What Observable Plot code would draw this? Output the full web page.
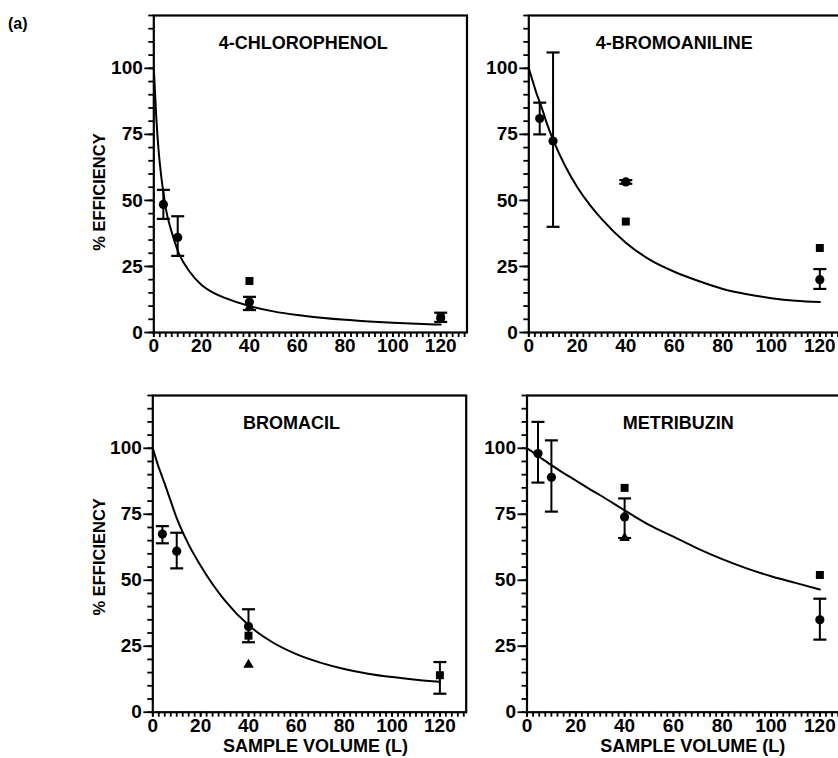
<!DOCTYPE html>
<html>
<head>
<meta charset="utf-8">
<script src="https://cdn.jsdelivr.net/npm/d3@7"></script>
<script src="https://cdn.jsdelivr.net/npm/@observablehq/plot@0.6"></script>
<style>
  html, body { margin: 0; padding: 0; background: #fff; overflow: hidden; }
  #chart { position: relative; width: 838px; height: 758px; overflow: hidden; background: #fff; }
  #chart > svg { position: absolute; overflow: visible; }
  #tag { position: absolute; left: 8px; top: 16px; font: bold 16px 'Liberation Sans', Arial, sans-serif; line-height: 16px; color: #000; }
</style>
</head>
<body>
<div id="chart"><div id="tag">(a)</div></div>
<script>
// ---------- data ----------
const panelTitles = ["4-CHLOROPHENOL", "4-BROMOANILINE", "BROMACIL", "METRIBUZIN"];
const yAxisLabel = "% EFFICIENCY";
const xAxisLabel = "SAMPLE VOLUME (L)";
const xTicks = [0, 20, 40, 60, 80, 100, 120];
const yTicks = [0, 25, 50, 75, 100];

// fitted curves, sampled at these volumes (L)
const curveVolume = [0, 1, 2, 3, 4, 5, 7.5, 10, 15, 20, 25, 30, 40, 50, 60, 70, 80, 90, 100, 110, 120];
const chlorophenolCurve = [100, 82, 69, 60, 53, 47, 38, 31, 23, 18, 15, 13, 10, 8, 6.6, 5.6, 4.8, 4.2, 3.7, 3.3, 3.0];
const bromoanilineCurve = [100, 97, 94, 91, 88.5, 86, 79, 73, 63, 55, 48.5, 43, 34, 27.5, 23, 19.5, 16.5, 14.5, 13, 12, 11.5];
const bromacilCurve = [100, 97, 94, 91.5, 89, 86.5, 80, 73.5, 63.5, 55.5, 48.5, 42.5, 33, 26.5, 22, 18.8, 16.4, 14.6, 13.3, 12.3, 11.5];
const metribuzinCurve = [100, 99.4, 98.8, 98.1, 97.5, 96.8, 95.2, 93.6, 90.6, 87.8, 84.9, 82.2, 76.5, 71, 66.5, 62, 58, 54.5, 51.5, 49, 46.5];

// [volume, efficiency]
const chlorophenolCircles = [[4, 48.5], [10, 36], [40, 11.5], [120, 5.5]];
const chlorophenolSquares = [[40, 19.5], [120, 6]];
const chlorophenolTriangles = [[40, 9.5]];
// [volume, low, high]
const chlorophenolErrors = [[4, 43, 54], [10, 29, 44], [40, 8.5, 13.5], [120, 4, 7.5]];

const bromoanilineCircles = [[4.5, 81], [10, 72.5], [40, 57], [120, 20]];
const bromoanilineSquares = [[40, 42], [120, 32]];
const bromoanilineTriangles = [];
const bromoanilineErrors = [[4.5, 75, 87], [10, 40, 106], [40, 56.3, 57.7], [120, 16.5, 24]];

const bromacilCircles = [[4, 67.5], [10, 61], [40, 32.5]];
const bromacilSquares = [[40, 29], [120, 14]];
const bromacilTriangles = [[40, 18]];
const bromacilErrors = [[4, 64, 70.5], [10, 54.5, 68], [40, 26.5, 39], [120, 7, 19]];

const metribuzinCircles = [[4.5, 98], [10, 89], [40, 74], [120, 35]];
const metribuzinSquares = [[40, 85], [120, 52]];
const metribuzinTriangles = [[40, 66]];
const metribuzinErrors = [[4.5, 87, 110], [10, 76, 103], [40, 66, 81], [120, 27.5, 43]];

// ---------- drawing ----------
const FONT = "'Liberation Sans', Arial, sans-serif";
const capSymbol = { draw(ctx) { ctx.moveTo(-6.5, 0); ctx.lineTo(6.5, 0); } };
const xMinor = d3.range(0, 131, 2.5);
const yMinor = d3.range(0, 121, 5);

function panel(cfg) {
  const curve = cfg.curve.map((y, i) => ({ x: curveVolume[i], y }));
  const pts = a => a.map(([x, y]) => ({ x, y }));
  const errs = cfg.errors.map(([x, lo, hi]) => ({ x, lo, hi }));
  const caps = errs.flatMap(d => [{ x: d.x, y: d.lo }, { x: d.x, y: d.hi }]);
  const marks = [
    Plot.axisY({ ticks: yMinor, tickSize: 5, fill: "none", strokeWidth: 1.8, label: null }),
    Plot.axisY({ ticks: yTicks, tickSize: 9, tickPadding: 2, strokeWidth: 1.8, label: null, tickFormat: d => String(d) }),
    Plot.axisX({ ticks: xMinor, tickSize: 5, fill: "none", strokeWidth: 1.8, label: null }),
    Plot.axisX({ ticks: xTicks, tickSize: 5, tickPadding: 1, strokeWidth: 1.8, label: null, tickFormat: d => String(d) }),
    Plot.frame({ stroke: "#000", strokeWidth: 2.2 }),
    Plot.line(curve, { x: "x", y: "y", curve: "monotone-x", stroke: "#000", strokeWidth: 2 }),
    Plot.ruleX(errs, { x: "x", y1: "lo", y2: "hi", stroke: "#000", strokeWidth: 2 }),
    Plot.dot(caps, { x: "x", y: "y", symbol: capSymbol, stroke: "#000", strokeWidth: 2.2, fill: "none" }),
    Plot.dot(pts(cfg.squares), { x: "x", y: "y", symbol: "square", r: 4.5, fill: "#000" }),
    Plot.dot(pts(cfg.triangles), { x: "x", y: "y", symbol: "triangle", r: 3.9, fill: "#000" }),
    Plot.dot(pts(cfg.circles), { x: "x", y: "y", symbol: "circle", r: 4.6, fill: "#000" }),
    Plot.text([cfg.title], { x: () => cfg.titleAt, y: () => 109.5, text: d => d, fontSize: 18, textAnchor: "middle", lineAnchor: "middle" })
  ];
  if (cfg.ylabel) {
    marks.push(Plot.text([yAxisLabel], { frameAnchor: "left", text: d => d, rotate: -90, dx: cfg.ylabDx, dy: cfg.ylabDy, fontSize: 16.5, textAnchor: "middle", lineAnchor: "middle" }));
  }
  if (cfg.xlabel) {
    marks.push(Plot.text([xAxisLabel], { frameAnchor: "bottom", text: d => d, dx: cfg.xlabDx, dy: 27, fontSize: 18, textAnchor: "middle", lineAnchor: "top" }));
  }
  const svg = Plot.plot({
    width: cfg.width, height: cfg.height,
    marginLeft: cfg.ml, marginRight: cfg.mr, marginTop: cfg.mt, marginBottom: cfg.mb,
    x: { domain: [0, 131] },
    y: { domain: [0, 120] },
    style: { fontFamily: FONT, fontSize: "19px", fontWeight: "bold", color: "#000", background: "transparent", overflow: "visible" },
    marks
  });
  svg.style.left = cfg.left + "px";
  svg.style.top = cfg.top + "px";
  document.getElementById("chart").appendChild(svg);
}

panel({ title: panelTitles[0], titleAt: 62.5, curve: chlorophenolCurve, circles: chlorophenolCircles, squares: chlorophenolSquares, triangles: chlorophenolTriangles, errors: chlorophenolErrors,
  left: 0, top: 0, width: 480, height: 375, ml: 153.3, mr: 480 - 466.5, mt: 15, mb: 43, ylabel: true, ylabDx: -54, ylabDy: 18 });
panel({ title: panelTitles[1], titleAt: 60, curve: bromoanilineCurve, circles: bromoanilineCircles, squares: bromoanilineSquares, triangles: bromoanilineTriangles, errors: bromoanilineErrors,
  left: 470, top: 0, width: 386, height: 375, ml: 58.3, mr: 386 - 58.3 - 317.7, mt: 15, mb: 43 });
panel({ title: panelTitles[2], titleAt: 58, curve: bromacilCurve, circles: bromacilCircles, squares: bromacilSquares, triangles: bromacilTriangles, errors: bromacilErrors,
  left: 0, top: 380, width: 480, height: 378, ml: 152.3, mr: 480 - 465.7, mt: 15, mb: 46.3, ylabel: true, ylabDx: -53, ylabDy: 3, xlabel: true, xlabDx: 6 });
panel({ title: panelTitles[3], titleAt: 62, curve: metribuzinCurve, circles: metribuzinCircles, squares: metribuzinSquares, triangles: metribuzinTriangles, errors: metribuzinErrors,
  left: 470, top: 380, width: 386, height: 378, ml: 56.5, mr: 386 - 56.5 - 319.7, mt: 15, mb: 46.3, xlabel: true, xlabDx: 6 });
</script>
</body>
</html>
